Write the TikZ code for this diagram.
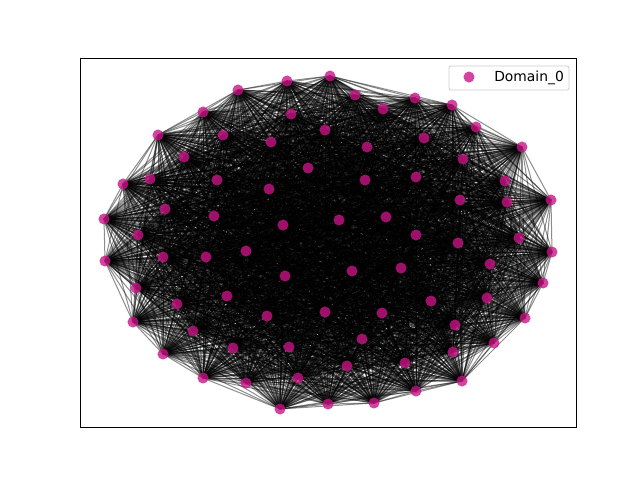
\documentclass[tikz,border=0pt]{standalone}
\usepackage{fontspec}
\setmainfont{DejaVu Sans}
\definecolor{mvr}{RGB}{199,21,133}
\begin{document}
\begin{tikzpicture}[x=0.75pt,y=-0.75pt,
  edge/.style={black,opacity=0.45,line width=0.75pt},
  dot/.style={circle,fill=mvr,fill opacity=0.8,draw=none,minimum size=8.3pt,inner sep=0pt},
  frame/.style={black,line width=0.6pt},
  legendbox/.style={draw=black!20,line width=0.6pt,rounded corners=1.5pt,fill=white,fill opacity=0.8}]
\useasboundingbox (0,0) rectangle (640,480);
\foreach \x/\y [count=\k] in {330/76,287/81,238/90,203/112,158/135,123/184,104/219,138/235,291/114,325/130,
223/135,271/142,184/157,308/168,150/179,217/180,269/189,165/209,214/216,283/225,
355/95,415/98,383/109,452/105,476/127,424/138,367/147,522/147,463/159,365/180,
416/177,505/181,460/200,507/202,551/200,339/220,386/217,416/235,458/243,519/238,
105/261,163/257,206/257,246/251,136/288,285/276,177/304,227/296,133/322,193/331,
267/316,325/312,163/354,233/348,289/347,203/378,246/383,298/378,280/409,328/404,
552/252,352/271,401/268,490/264,543/283,431/301,487/298,382/313,525/318,455/325,
494/343,453/352,347/366,405/363,362/339,462/381,416/391,374/403}
  {\coordinate (p\k) at (\x,\y);}
\foreach \i in {1,...,77}{
  \pgfmathtruncatemacro\st{\i+1}
  \foreach \j in {\st,...,78}{
    \draw[edge] (p\i) -- (p\j);
  }
}
\foreach \k in {1,...,78}{\node[dot] (n\k) at (p\k) {};}
\draw[frame] (80,58) rectangle (576,427);
\node[legendbox,minimum width=90pt,minimum height=18pt] (lg) at (509,78) {};
\node[dot] (lgdot) at (469,77) {};
\node[anchor=west,font=\fontsize{10.4}{12}\selectfont,inner sep=0pt] (lgtext) at (494,77.5) {Domain\_0};
\end{tikzpicture}
\end{document}
